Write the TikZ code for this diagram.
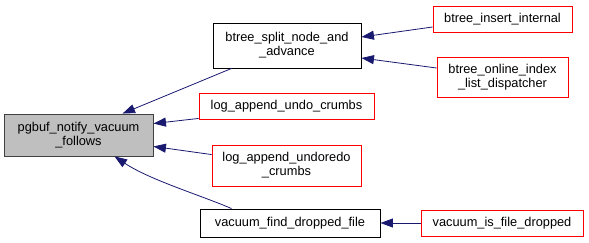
\documentclass[tikz,border=0pt]{standalone}
\usepackage{fontspec}
\setmainfont{Liberation Sans}
\usetikzlibrary{arrows.meta}
\definecolor{edgeblue}{HTML}{191970}
\definecolor{callred}{HTML}{FF0000}
\definecolor{rootgray}{HTML}{BFBFBF}
\definecolor{rootline}{HTML}{404040}
\begin{document}
\begin{tikzpicture}[x=1pt,y=-1pt,
  fn/.style={draw, line width=0.9pt, inner sep=0pt, align=center,
    font=\fontsize{12.8}{14}\selectfont, anchor=center, fill=white},
  rootfn/.style={fn, fill=rootgray, draw=rootline},
  redfn/.style={fn, draw=callred},
  calls/.style={draw=edgeblue, line width=0.8pt,
    -{Triangle[length=12.5pt,width=9pt]}, edgeblue}
]
\useasboundingbox (0,0) rectangle (589,243);

% functions
\node[rootfn, minimum width=149pt, minimum height=42pt] (main) at (78.5,135)
  {pgbuf\_notify\_vacuum\\\_follows};
\node[fn, minimum width=148pt, minimum height=45pt] (bs) at (287,45.5)
  {btree\_split\_node\_and\\\_advance};
\node[redfn, minimum width=175pt, minimum height=26pt] (lu) at (286.5,106)
  {log\_append\_undo\_crumbs};
\node[redfn, minimum width=149pt, minimum height=41pt] (lr) at (286.5,165.5)
  {log\_append\_undoredo\\\_crumbs};
\node[fn, minimum width=180pt, minimum height=28pt] (vf) at (290,223)
  {vacuum\_find\_dropped\_file};
\node[redfn, minimum width=139pt, minimum height=26pt] (bi) at (502.5,19)
  {btree\_insert\_internal};
\node[redfn, minimum width=131pt, minimum height=40pt] (bo) at (502.5,77)
  {btree\_online\_index\\\_list\_dispatcher};
\node[redfn, minimum width=162pt, minimum height=26pt] (vi) at (502,223)
  {vacuum\_is\_file\_dropped};

% call edges
\draw[calls] ([xshift=19pt]bs.south west) -- ([xshift=119pt]main.north west);
\draw[calls] ([yshift=1pt]lu.south west) -- ([yshift=-10pt]main.north east);
\draw[calls] ([yshift=-10pt]lr.north west) -- ([yshift=10pt]main.south east);
\draw[calls] ([xshift=32pt]vf.north west) .. controls (200,195) and (150,180)
  .. ([xshift=111pt]main.south west);
\draw[calls] ([yshift=-8pt]bi.west) -- ([yshift=8.5pt]bs.east);
\draw[calls] ([yshift=9pt]bo.west) -- ([yshift=-12.5pt]bs.east);
\draw[calls] (vi.west) -- (vf.east);
\end{tikzpicture}
\end{document}
